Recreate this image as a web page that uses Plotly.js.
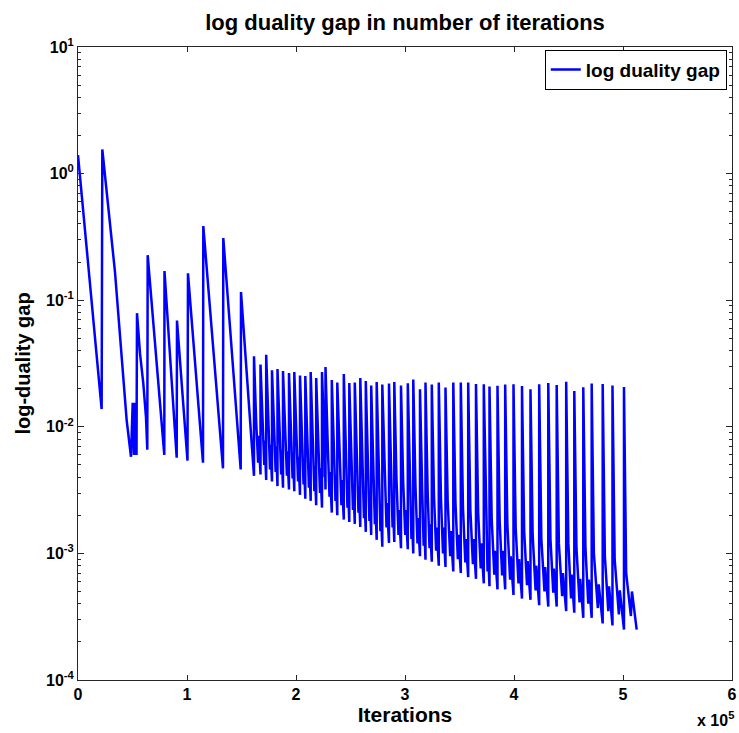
<!DOCTYPE html>
<html><head><meta charset="utf-8">
<script src="https://cdn.plot.ly/plotly-3.0.1.min.js"></script>
<style>html,body{margin:0;padding:0;background:#fff;} #chart{width:739px;height:733px;}</style>
</head><body><div id="chart"></div>
<script>
// ---- data ----
// early part of the run: explicit vertices (iteration, duality gap)
const earlyIter = [0, 20200, 21700, 22300, 33940, 44630, 48620, 50180, 51370, 52290, 53670,
  54130, 56880, 59910, 62380, 63570, 63940, 79170, 79350, 90550, 90820, 100450,
  100900, 114680, 114950, 133020, 133300, 149260, 149540, 161460];
const earlyGap = [1.4, 0.0202, 0.0138, 1.55, 0.167, 0.0113, 0.0058, 0.0155, 0.0060, 0.0155, 0.0060,
  0.079, 0.038, 0.022, 0.0119, 0.0066, 0.227, 0.0060, 0.170, 0.0057, 0.069, 0.0054,
  0.163, 0.0052, 0.385, 0.0047, 0.31, 0.0046, 0.116, 0.0041];

// regular restarts: spike position, spike top, level after the fast drop,
// small dip and rebound inside the tooth, level at the end of the tooth
const toothIter = [161460, 167430, 172650, 177980, 183020, 188070, 193570, 198430, 203660, 208530,
  213480, 218520, 223850, 227060, 232840, 237880, 243850, 248890, 253940, 258980,
  264030, 268980, 274030, 279170, 285310, 290170, 296320, 302560, 307600, 313750,
  318800, 324580, 331000, 337150, 344300, 351180, 357970, 365130, 372280, 377510,
  384850, 391910, 399530, 407330, 415120, 423100, 431450, 439160, 447870, 455310,
  463560, 471270, 481360, 490350, 500900];
const toothPeak = [0.036, 0.031, 0.037, 0.028, 0.0286, 0.0276, 0.0266, 0.0271, 0.0254, 0.0252,
  0.0271, 0.0243, 0.0271, 0.0297, 0.0234, 0.0224, 0.0261, 0.0222, 0.0224, 0.0243,
  0.023, 0.0212, 0.0226, 0.0216, 0.022, 0.0226, 0.0212, 0.0221, 0.0236, 0.0198,
  0.0224, 0.0216, 0.0224, 0.0204, 0.0224, 0.0224, 0.0224, 0.0218, 0.0217, 0.0208,
  0.0211, 0.0216, 0.0217, 0.021, 0.0198, 0.0217, 0.0222, 0.0214, 0.0227, 0.0192,
  0.0205, 0.022, 0.0218, 0.0212, 0.0206];
const toothKnee = [0.011, 0.011, 0.010, 0.0098, 0.0095, 0.0092, 0.009, 0.0088, 0.0085, 0.008,
  0.0078, 0.0072, 0.0085, 0.0075, 0.0068, 0.0065, 0.0062, 0.006, 0.0056, 0.0055,
  0.0051, 0.0048, 0.0045, 0.0042, 0.004, 0.0039, 0.0037, 0.0035, 0.0034, 0.0032,
  0.003, 0.0029, 0.0027, 0.0026, 0.0025, 0.0023, 0.0022, 0.0021, 0.002, 0.0019,
  0.0018, 0.0017, 0.0016, 0.0015, 0.0014, 0.0013, 0.0013, 0.0012, 0.0012, 0.0011,
  0.0011, 0.001, 0.00095, 0.0009, 0.0007];
const toothDip = [0.0052, 0.0050, 0.0046, 0.0044, 0.0042, 0.0041, 0.0039, 0.0037, 0.0035, 0.0033,
  0.0031, 0.0030, 0.0040, 0.0028, 0.0026, 0.0024, 0.0023, 0.0022, 0.0021, 0.0019,
  0.0018, 0.0017, 0.0015, 0.0016, 0.0016, 0.0014, 0.0014, 0.0013, 0.0012, 0.00115,
  0.0011, 0.00105, 0.001, 0.00095, 0.0009, 0.00085, 0.00082, 0.00076, 0.00072, 0.00068,
  0.00067, 0.00062, 0.00058, 0.00056, 0.00051, 0.0005, 0.00049, 0.00046, 0.00044, 0.00041,
  0.0004, 0.00037, 0.00035, 0.00033, 0.00032];
const toothBump = [0.0085, 0.0078, 0.0072, 0.007, 0.0066, 0.0064, 0.0062, 0.0058, 0.0055, 0.0052,
  0.0049, 0.0047, 0.006, 0.0044, 0.0041, 0.0038, 0.0036, 0.0035, 0.0033, 0.003,
  0.0029, 0.0026, 0.0024, 0.0025, 0.0025, 0.0022, 0.0022, 0.002, 0.0019, 0.0018,
  0.0017, 0.0016, 0.0016, 0.0015, 0.0014, 0.0013, 0.0013, 0.0012, 0.0011, 0.00105,
  0.00105, 0.00095, 0.0009, 0.00087, 0.0008, 0.00078, 0.00076, 0.0007, 0.00068, 0.00063,
  0.00062, 0.00057, 0.00055, 0.00051, 0.0005];
const toothMin = [0.0042, 0.0038, 0.0037, 0.0034, 0.0033, 0.0032, 0.0031, 0.0029, 0.0027, 0.0026,
  0.0024, 0.0023, 0.0032, 0.0021, 0.0020, 0.00185, 0.00177, 0.00171, 0.00162, 0.00148,
  0.0014, 0.00128, 0.00113, 0.00121, 0.00123, 0.0011, 0.00108, 0.001, 0.00095, 0.00089,
  0.00086, 0.0008, 0.00078, 0.00072, 0.0007, 0.00065, 0.00063, 0.00058, 0.00055, 0.00052,
  0.00052, 0.00047, 0.00044, 0.00043, 0.00039, 0.00038, 0.00038, 0.00035, 0.00034, 0.00031,
  0.00031, 0.00028, 0.00027, 0.00025, 0.00025];
const lastIter = 512550;

const seriesName = 'log duality gap';
const xTickVals = [0, 100000, 200000, 300000, 400000, 500000, 600000];
const xTickText = ['0', '1', '2', '3', '4', '5', '6'];
const yTickVals = [1e-4, 1e-3, 1e-2, 1e-1, 1, 10];
const yTickText = ['10<sup>-4</sup>', '10<sup>-3</sup>', '10<sup>-2</sup>', '10<sup>-1</sup>', '10<sup>0</sup>', '10<sup>1</sup>'];

// ---- build the polyline ----
const KNEE_OFFSET = 2000;   // iterations between spike rise and the fast drop
const DIP_AT = 0.45, BUMP_AT = 0.55; // where the small rebound sits inside a tooth
const xs = earlyIter.slice();
const ys = earlyGap.slice();
for (let i = 0; i < toothIter.length; i++) {
  const start = toothIter[i];
  const end = (i + 1 < toothIter.length) ? toothIter[i + 1] : lastIter;
  const k = start + KNEE_OFFSET;
  const rest = end - k;
  xs.push(start); ys.push(toothPeak[i]);
  xs.push(k); ys.push(toothKnee[i]);
  xs.push(k + DIP_AT * rest); ys.push(toothDip[i]);
  xs.push(k + BUMP_AT * rest); ys.push(toothBump[i]);
  xs.push(end); ys.push(toothMin[i]);
}

// minor log ticks
const minorVals = [];
for (let e = -4; e < 1; e++) for (let m = 2; m <= 9; m++) minorVals.push(m * Math.pow(10, e));

const FONT = 'Liberation Sans, Arial, Helvetica, sans-serif';
const axisColor = '#262626';

const trace = {
  x: xs, y: ys, type: 'scatter', mode: 'lines', name: seriesName,
  line: {color: '#0000ff', width: 2.5}
};

const layout = {
  width: 739, height: 733,
  margin: {l: 78, r: 7, t: 47, b: 53},
  paper_bgcolor: '#ffffff', plot_bgcolor: '#ffffff',
  title: {text: 'log duality gap in number of iterations', font: {family: FONT, size: 22, color: '#000', weight: 'bold'},
          x: 0.5, xref: 'paper', y: 0.97, yref: 'container', yanchor: 'middle'},
  showlegend: true,
  legend: {x: 0.992, y: 0.996, xanchor: 'right', yanchor: 'top', bgcolor: '#ffffff',
           bordercolor: '#000000', borderwidth: 1, tracegroupgap: 0,
           font: {family: FONT, size: 19, color: '#000', weight: 'bold'}},
  xaxis: {
    range: [0, 600000], tickmode: 'array', tickvals: xTickVals, ticktext: xTickText,
    ticks: 'inside', ticklen: 5, tickcolor: axisColor, showline: true, linecolor: axisColor, linewidth: 1,
    mirror: 'ticks', showgrid: false, zeroline: false,
    tickfont: {family: FONT, size: 16, color: '#000', weight: 'bold'},
    title: {text: 'Iterations', font: {family: FONT, size: 21, color: '#000', weight: 'bold'}, standoff: 3}
  },
  yaxis: {
    type: 'log', range: [-4, 1], tickmode: 'array', tickvals: yTickVals, ticktext: yTickText,
    ticks: 'inside', ticklen: 6, tickcolor: axisColor, showline: true, linecolor: axisColor, linewidth: 1,
    mirror: 'ticks', showgrid: false, zeroline: false,
    minor: {tickmode: 'array', tickvals: minorVals, ticks: 'inside', ticklen: 3, tickcolor: axisColor, showgrid: false},
    tickfont: {family: FONT, size: 16, color: '#000', weight: 'bold'},
    title: {text: 'log-duality gap', font: {family: FONT, size: 20, color: '#000', weight: 'bold'}, standoff: 10}
  },
  annotations: [{
    text: 'x 10<sup>5</sup>', xref: 'paper', yref: 'paper', x: 1.006, y: -0.062,
    xanchor: 'right', yanchor: 'middle', showarrow: false,
    font: {family: FONT, size: 16, color: '#000', weight: 'bold'}
  }]
};

Plotly.newPlot('chart', [trace], layout, {displayModeBar: false, staticPlot: true});
</script>
</body></html>
